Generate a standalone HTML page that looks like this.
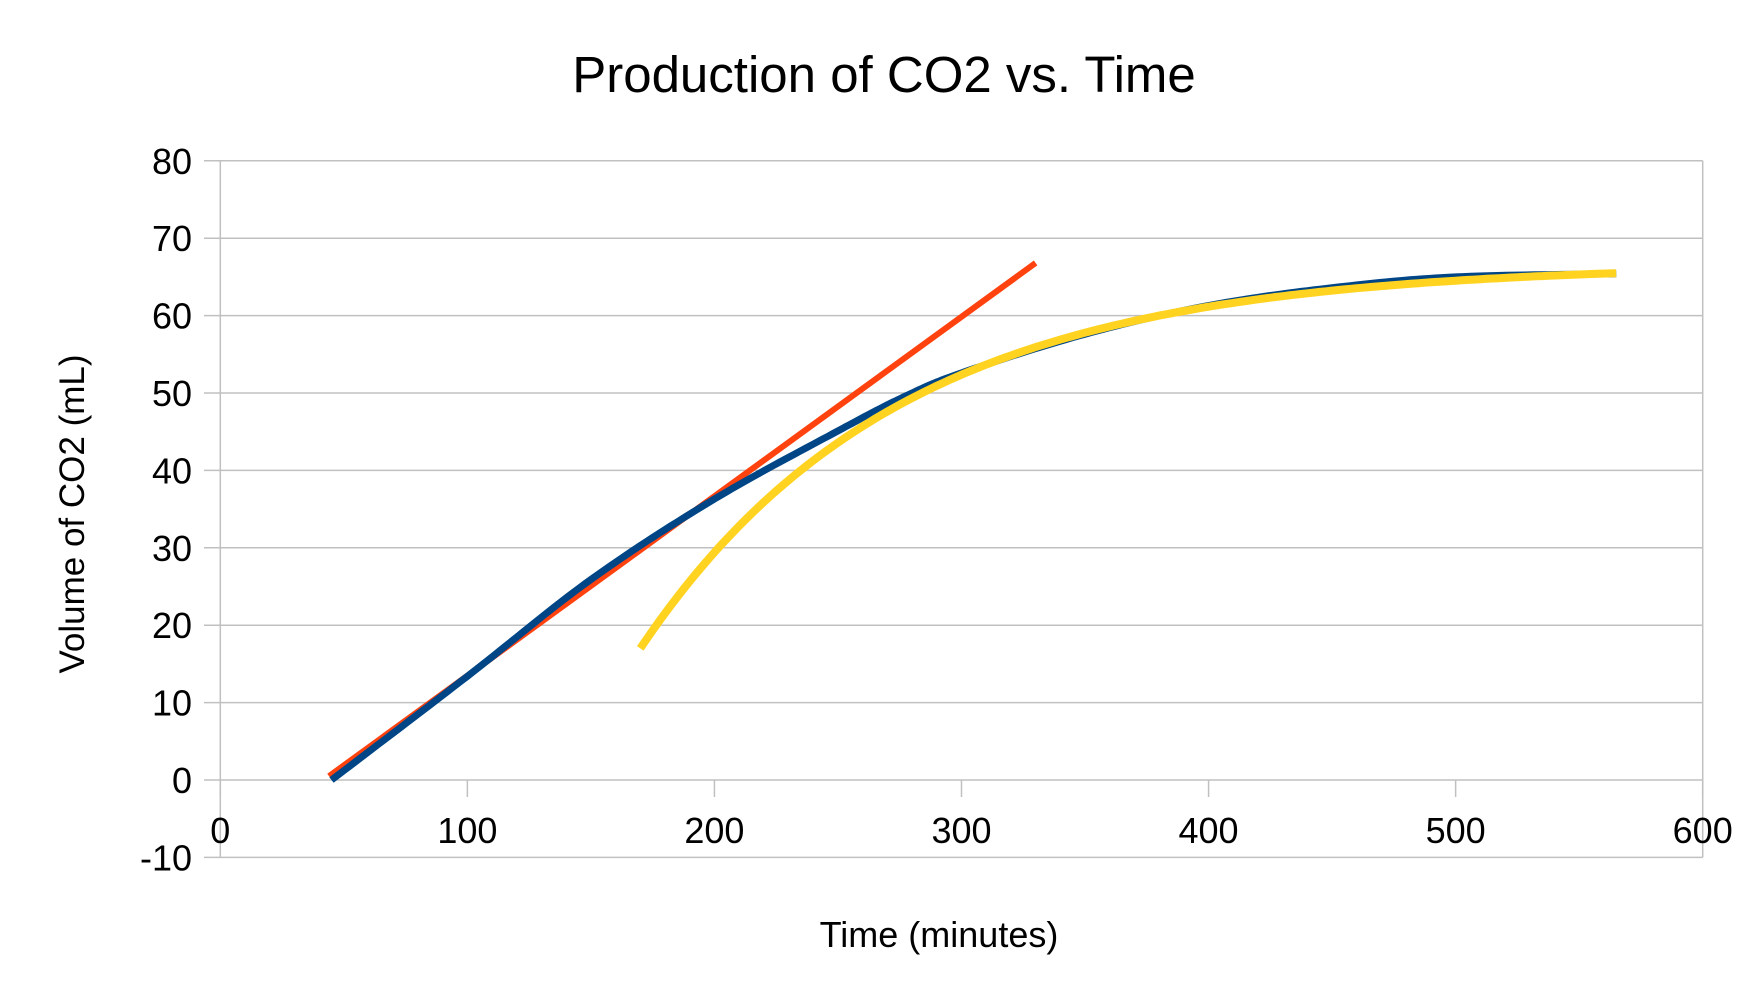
<!DOCTYPE html>
<html><head><meta charset="utf-8"><style>
html,body{margin:0;padding:0;background:#fff;overflow:hidden;}
svg{display:block;font-family:"Liberation Sans",sans-serif;}
</style></head><body>
<svg id="s" width="1752" height="995" viewBox="0 0 1752 995" xmlns="http://www.w3.org/2000/svg">
<rect width="1752" height="995" fill="#fff"/>
<text x="884" y="92" font-size="51" text-anchor="middle" fill="#000">Production of CO2 vs. Time</text>
<g id="grid" stroke="#c0c0c0" stroke-width="1.5"></g>
<g id="lab" font-size="36" fill="#000"></g>
<text transform="translate(84,514) rotate(-90)" font-size="35" text-anchor="middle" fill="#000">Volume of CO2 (mL)</text>
<text x="939" y="947" font-size="36" text-anchor="middle" fill="#000">Time (minutes)</text>
<path id="red" fill="none" stroke="#ff420e" stroke-width="6"/>
<path id="blue" fill="none" stroke="#004586" stroke-width="7" stroke-linejoin="round"/>
<path id="yel" fill="none" stroke="#ffd320" stroke-width="8"/>
</svg>
<script>
var X0=220.3,XS=1482.4/600,Y0=780,YS=7.74;
function px(t){return X0+t*XS}function py(v){return Y0-v*YS}
var g=document.getElementById('grid'),l=document.getElementById('lab'),ns="http://www.w3.org/2000/svg";
function el(p,tag,a,txt){var e=document.createElementNS(ns,tag);for(var k in a)e.setAttribute(k,a[k]);if(txt!=null)e.textContent=txt;p.appendChild(e);}
for(var v=-10;v<=80;v+=10){var y=py(v);el(g,'line',{x1:204,x2:1702.7,y1:y,y2:y});el(l,'text',{x:192,y:y+13,'text-anchor':'end'},String(v));}
el(g,'line',{x1:X0,x2:X0,y1:py(80),y2:py(-10)});el(g,'line',{x1:1702.7,x2:1702.7,y1:py(80),y2:py(-10)});
for(var t=0;t<=600;t+=100){var x=px(t);el(g,'line',{x1:x,x2:x,y1:780,y2:797});el(l,'text',{x:x,y:843,'text-anchor':'middle'},String(t));}
function Y(t){return 66.6-49.6*Math.exp(-0.0096*(t-170));}
var d='';for(var t=170;t<=565;t+=2.5){d+=(t==170?'M':'L')+px(t).toFixed(1)+','+py(Y(t)).toFixed(1);}
document.getElementById('yel').setAttribute('d',d);
document.getElementById('red').setAttribute('d','M'+px(44)+','+py(0.5)+'L'+px(330)+','+py(66.8));
var P=[[45,0],[100,13.4],[150,25.9],[200,36.3],[250,45.1],[276,49.4],[300,52.6],[350,57.6],[400,61.3],[450,63.6],[500,65],[565,65.4]];
var b='M'+px(45).toFixed(1)+','+py(0).toFixed(1);
for(var i=0;i<P.length-1;i++){var p0=P[Math.max(0,i-1)],p1=P[i],p2=P[i+1],p3=P[Math.min(P.length-1,i+2)];
 for(var s=1;s<=20;s++){var u=s/20,u2=u*u,u3=u2*u;
  var f=function(a,b,c,d){return 0.5*(2*b+(-a+c)*u+(2*a-5*b+4*c-d)*u2+(-a+3*b-3*c+d)*u3);};
  var t=f(p0[0],p1[0],p2[0],p3[0]),v=f(p0[1],p1[1],p2[1],p3[1]);
  b+='L'+px(t).toFixed(1)+','+py(v).toFixed(1);}}
document.getElementById('blue').setAttribute('d',b);
</script>
</body></html>
